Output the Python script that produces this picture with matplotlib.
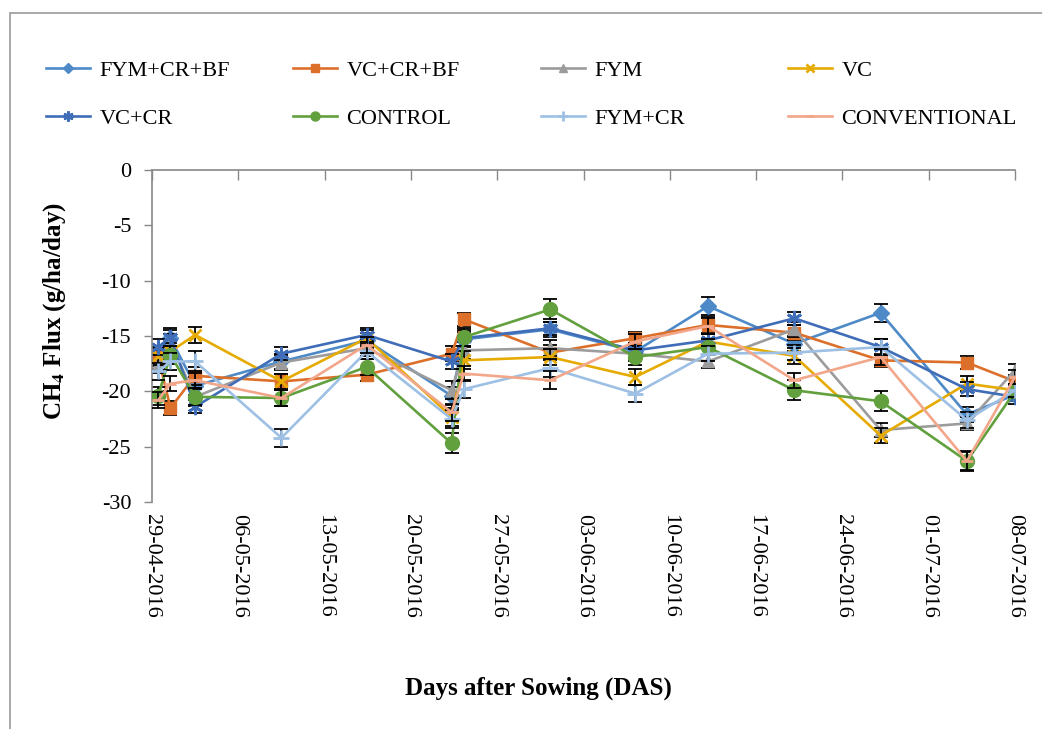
import matplotlib
matplotlib.use("Agg")
import matplotlib.pyplot as plt
from matplotlib.patches import Rectangle

plt.rcParams['font.family'] = ['Liberation Serif', 'DejaVu Serif']
plt.rcParams['mathtext.fontset'] = 'stix'
plt.rcParams['axes.unicode_minus'] = False

# sampling days, counted from 29-04-2016
days = [0.5, 1.5, 3.5, 10.5, 17.4, 24.3, 25.3, 32.3, 39.2, 45.1, 52.1, 59.1, 66.1, 70.0]

tick_days = [0, 7, 14, 21, 28, 35, 42, 49, 56, 63, 70]
tick_labels = ["29-04-2016", "06-05-2016", "13-05-2016", "20-05-2016", "27-05-2016",
               "03-06-2016", "10-06-2016", "17-06-2016", "24-06-2016", "01-07-2016",
               "08-07-2016"]

series_names = ["FYM+CR+BF", "VC+CR+BF", "FYM", "VC",
                "VC+CR", "CONTROL", "FYM+CR", "CONVENTIONAL"]

fym_cr_bf = [-17.2, -15.2, -19.5, -17.3, -15.4, -20.4, -15.3, -14.4, -16.4, -12.3, -15.7, -12.9, -22.1, -20.3]
vc_cr_bf = [-16.9, -21.5, -18.6, -19.1, -18.5, -16.6, -13.5, -16.5, -15.2, -14.0, -14.7, -17.2, -17.4, -19.1]
fym = [-17.5, -15.6, -20.5, -17.4, -16.1, -19.9, -16.3, -16.1, -16.6, -17.3, -14.4, -23.5, -22.9, -18.1]
vc = [-16.8, -16.4, -14.9, -19.1, -15.2, -22.3, -17.2, -16.9, -18.7, -15.5, -16.8, -24.0, -19.3, -19.9]
vc_cr = [-16.0, -15.1, -21.4, -16.6, -14.9, -17.3, -15.2, -14.3, -16.3, -15.4, -13.4, -16.0, -19.8, -20.5]
control = [-20.4, -16.7, -20.5, -20.6, -17.8, -24.7, -15.1, -12.6, -16.9, -16.0, -19.9, -20.9, -26.3, -20.0]
fym_cr = [-18.2, -17.3, -17.3, -24.2, -16.4, -22.5, -19.8, -17.9, -20.2, -16.6, -16.5, -16.0, -22.6, -19.9]
conventional = [-20.8, -19.3, -19.0, -20.6, -15.8, -21.9, -18.4, -19.0, -15.5, -14.1, -19.0, -16.9, -26.3, -18.7]

# standard errors
err_fym_cr_bf = [0.8, 0.7, 0.8, 0.7, 0.7, 0.8, 0.7, 0.7, 0.7, 0.8, 0.7, 0.8, 0.7, 0.6]
err_vc_cr_bf = [0.8, 0.6, 0.8, 0.7, 0.6, 0.7, 0.6, 0.7, 0.6, 0.7, 0.7, 0.6, 0.6, 0.6]
err_fym = [0.8, 0.8, 0.8, 0.7, 0.7, 0.8, 0.8, 0.7, 0.7, 0.6, 0.7, 0.6, 0.6, 0.6]
err_vc = [0.8, 0.8, 0.7, 0.7, 0.7, 0.8, 0.8, 0.7, 0.7, 0.7, 0.7, 0.7, 0.7, 0.6]
err_vc_cr = [0.7, 0.8, 0.6, 0.6, 0.6, 0.7, 0.7, 0.6, 0.7, 0.6, 0.6, 0.7, 0.6, 0.6]
err_control = [0.8, 0.8, 0.7, 0.7, 0.7, 0.9, 0.8, 0.9, 0.7, 0.7, 0.9, 0.9, 0.9, 0.6]
err_fym_cr = [0.8, 0.8, 0.9, 0.8, 0.7, 0.8, 0.8, 0.8, 0.8, 0.7, 0.7, 0.7, 0.7, 0.6]
err_conventional = [0.7, 0.7, 0.7, 0.7, 0.7, 0.8, 0.7, 0.8, 0.7, 0.7, 0.7, 0.7, 0.8, 0.6]

values = [fym_cr_bf, vc_cr_bf, fym, vc, vc_cr, control, fym_cr, conventional]
errors = [err_fym_cr_bf, err_vc_cr_bf, err_fym, err_vc,
          err_vc_cr, err_control, err_fym_cr, err_conventional]

colors = ['#4E8AC8', '#DC6F2A', '#9C9C9C', '#E6AB02',
          '#3F6DB8', '#62A03E', '#9DC0E4', '#F2A68A']
markers = ['D', 's', '^', 'x', (6, 2, 0), 'o', '+', '_']
msizes = [8, 9, 9, 9, 11, 10, 11, 8]

fig = plt.figure(figsize=(10.42, 7.29), dpi=100)
ax = fig.add_axes([152 / 1042, 1 - 502 / 729, 863 / 1042, 332 / 729])

handles = []
for i, (name, y, e, c, m, ms) in enumerate(zip(series_names, values, errors, colors, markers, msizes)):
    ax.errorbar(days, y, yerr=e, fmt='none', ecolor='black', elinewidth=1.3,
                capsize=5, capthick=1.3, zorder=2 + i * 0.1)
    h, = ax.plot(days, y, color=c, linewidth=1.9, marker=m, markersize=ms,
                 markeredgewidth=2 if m in ('x', '+', '_', (6, 2, 0)) else 1,
                 markeredgecolor=c, markerfacecolor=c, label=name, zorder=2.05 + i * 0.1)
    handles.append(h)

ax.set_xlim(0, 70)
ax.set_ylim(-30, 0)
ax.set_yticks([0, -5, -10, -15, -20, -25, -30])
ax.set_xticks(tick_days)
ax.set_xticklabels(tick_labels, rotation=-90, va='top', ha='center')

ax.tick_params(axis='x', top=True, bottom=False, labeltop=False, labelbottom=True,
               direction='in', length=7, width=1, color='#888888', pad=9, labelsize=16)
ax.tick_params(axis='y', direction='out', length=6, width=1, color='#888888',
               pad=9, labelsize=16)

for side in ('bottom', 'right'):
    ax.spines[side].set_visible(False)
for side in ('top', 'left'):
    ax.spines[side].set_color('#888888')
    ax.spines[side].set_linewidth(1.2)

fig.text(55 / 1042, 1 - 311 / 729, r'CH$_{\mathbf{4}}$ Flux (g/ha/day)', rotation=90,
         ha='center', va='center', fontsize=18, fontweight='bold')
fig.text(538 / 1042, 1 - 688 / 729, 'Days after Sowing (DAS)',
         ha='center', va='center', fontsize=18, fontweight='bold')

# legend: four columns, two rows, evenly spaced like the original
col_x = [46, 293, 541, 788]
for i, x0 in enumerate(col_x):
    fig.legend([handles[i], handles[i + 4]], [series_names[i], series_names[i + 4]],
               loc='upper left', bbox_to_anchor=(x0 / 1042, 1 - 60 / 729),
               frameon=False, fontsize=16, handlelength=2.0, handletextpad=0.4,
               labelspacing=1.25, borderpad=0, borderaxespad=0, markerscale=0.65)

fig.patches.append(Rectangle((10 / 1042, -0.1), 1.2, 1.1 - 13 / 729,
                             transform=fig.transFigure, fill=False,
                             edgecolor='#999999', linewidth=1.2))

fig.savefig('out.png', dpi=100)
